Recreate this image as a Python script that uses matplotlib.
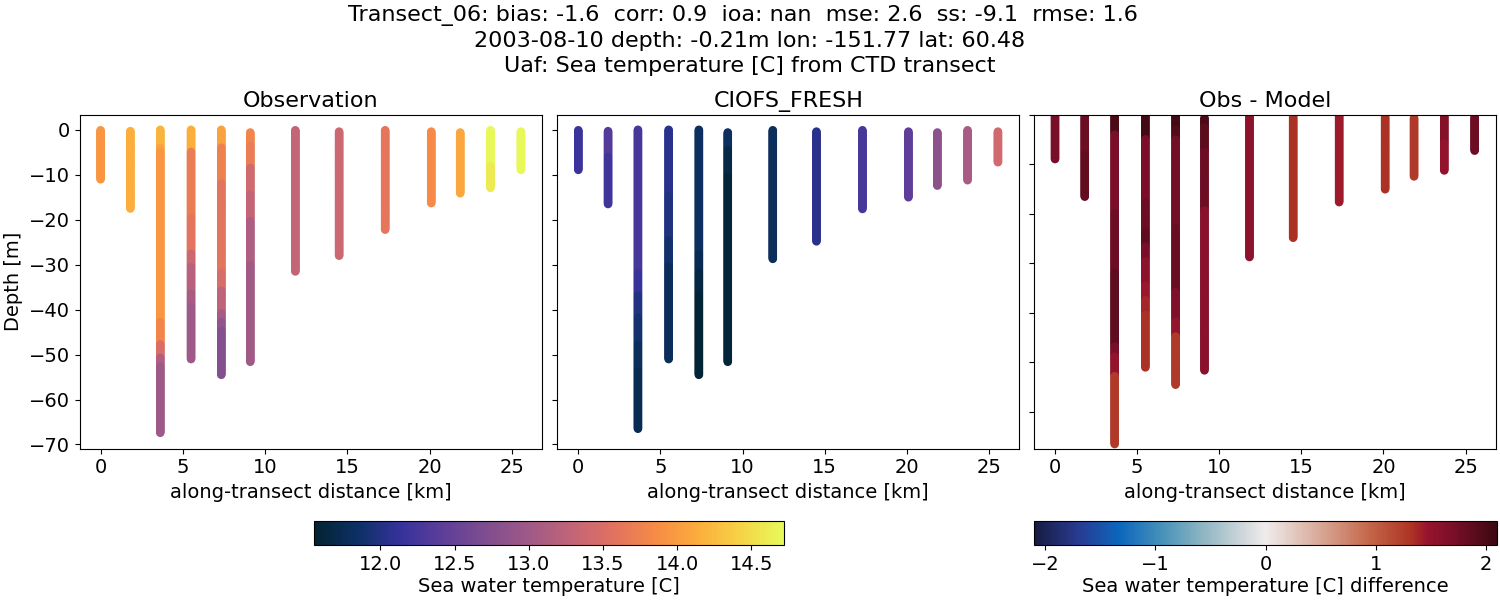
import numpy as np
import matplotlib
matplotlib.use("Agg")
import matplotlib.pyplot as plt
from matplotlib.colors import LinearSegmentedColormap, Normalize
from matplotlib.cm import ScalarMappable

# along-transect distance of the casts [km]
distance = [0.0, 1.81, 3.63, 5.5, 7.34, 9.1, 11.84, 14.5, 17.3, 20.1, 21.86, 23.7, 25.55]

# top and bottom of each cast [m]
obs_top = [-0.1, -0.3, 0.0, 0.0, 0.0, -0.6, -0.1, -0.4, -0.1, -0.4, -0.6, -0.1, -0.4]
obs_bottom = [-11.0, -17.5, -67.4, -51.0, -54.5, -51.6, -31.5, -28.0, -22.2, -16.3, -14.1, -12.9, -8.9]
model_top = [-0.1, -0.3, 0.0, 0.0, 0.0, -0.6, -0.1, -0.4, -0.1, -0.4, -0.6, -0.1, -0.4]
model_bottom = [-8.9, -16.5, -66.5, -51.0, -54.5, -51.6, -28.7, -24.8, -17.6, -15.0, -12.4, -11.2, -7.2]

# temperature read down each cast, about one value per metre
obs_temp = [
    [13.95] * 12,
    [14.15] * 18,
    [14.2] * 4 + [14.05] * 1 + [13.95] * 38 + [13.8] * 5 + [13.5] * 3 + [13.15] * 2 + [13.0] * 15,
    [14.15] * 5 + [13.7] * 15 + [13.6] * 8 + [13.38] * 3 + [13.2] * 6 + [13.08] * 3 + [12.98] * 12,
    [14.05] * 4 + [13.75] * 8 + [13.6] * 20 + [13.48] * 4 + [13.25] * 5 + [13.05] * 2 + [12.88] * 2 + [12.75] * 10,
    [13.8] * 3 + [13.7] * 5 + [13.4] * 6 + [13.3] * 6 + [13.12] * 10 + [13.02] * 22,
    [13.3] * 32,
    [13.38] * 28,
    [13.62] * 23,
    [13.85] * 17,
    [14.1] * 14,
    [14.7] * 8 + [14.6] * 5,
    [14.7] * 9,
]
model_temp = [
    [12.17] * 9,
    [12.35] * 6 + [12.2] * 11,
    [12.25] * 32 + [12.15] * 5 + [12.0] * 5 + [11.9] * 6 + [11.8] * 6 + [11.75] * 13,
    [12.05] * 15 + [11.98] * 10 + [11.88] * 6 + [11.78] * 21,
    [11.82] * 28 + [11.75] * 4 + [11.65] * 5 + [11.57] * 18,
    [11.82] * 4 + [11.68] * 6 + [11.6] * 42,
    [11.8] * 29,
    [12.05] * 25,
    [12.25] * 18,
    [12.42] * 15,
    [12.83] * 13,
    [13.08] * 12,
    [13.42] * 8,
]
diff_temp = [
    [1.72] * 9,
    [1.8] * 8 + [1.85] * 9,
    [2.0] * 4 + [1.72] * 16 + [1.78] * 12 + [1.88] * 15 + [1.72] * 2 + [1.52] * 4 + [1.27] * 14,
    [2.05] * 5 + [1.7] * 13 + [1.78] * 6 + [1.88] * 3 + [1.7] * 3 + [1.55] * 5 + [1.46] * 3 + [1.38] * 3 + [1.33] * 11,
    [2.05] * 3 + [1.95] * 2 + [1.75] * 18 + [1.82] * 13 + [1.65] * 6 + [1.48] * 3 + [1.27] * 10,
    [2.0] * 2 + [1.9] * 5 + [1.78] * 12 + [1.58] * 33,
    [1.55] * 29,
    [1.34] * 25,
    [1.43] * 18,
    [1.34] * 15,
    [1.27] * 13,
    [1.62] * 6 + [1.5] * 6,
    [1.78] * 8,
]

title_lines = [
    "Transect_06: bias: -1.6  corr: 0.9  ioa: nan  mse: 2.6  ss: -9.1  rmse: 1.6  ",
    "2003-08-10 depth: -0.21m lon: -151.77 lat: 60.48",
    "Uaf: Sea temperature [C] from CTD transect",
]

# cmocean is not available, so rebuild thermal and balance
thermal_rgb = [(3, 35, 51), (13, 48, 100), (53, 50, 155), (93, 62, 153), (126, 77, 143), (158, 89, 135),
               (193, 100, 121), (225, 113, 97), (246, 139, 69), (251, 173, 60), (246, 211, 70), (231, 250, 90)]
balance_rgb = [(23, 28, 66), (41, 58, 143), (11, 102, 189), (69, 144, 185), (142, 181, 194), (210, 216, 219),
               (240, 236, 235), (230, 210, 204), (213, 157, 137), (196, 101, 72), (172, 50, 36), (152, 20, 45),
               (120, 14, 40), (60, 9, 17)]
balance_pos = [0, 1 / 11, 2 / 11, 3 / 11, 4 / 11, 5 / 11, 0.5, 6 / 11, 7 / 11, 8 / 11, 9 / 11, 0.85, 10 / 11, 1]
thermal = LinearSegmentedColormap.from_list("thermal", [tuple(c / 255 for c in rgb) for rgb in thermal_rgb], N=256)
balance = LinearSegmentedColormap.from_list(
    "balance", [(p, tuple(c / 255 for c in rgb)) for p, rgb in zip(balance_pos, balance_rgb)], N=256
)

temp_norm = Normalize(vmin=11.553, vmax=14.72)
diff_norm = Normalize(vmin=-2.1, vmax=2.1)

FONT = 14
W, H = 1500.0, 600.0
PER_READING = 4  # points drawn for each reading, keeps the columns smooth


def px_axes(fig, left, right, top, bottom):
    return fig.add_axes([left / W, 1 - bottom / H, (right - left) / W, (bottom - top) / H])


def draw_casts(ax, tops, bottoms, values, cmap, norm):
    # one scatter per cast, shallow to deep, so deeper points sit on top
    for x, top, bottom, vals in zip(distance, tops, bottoms, values):
        vals = np.repeat(vals, PER_READING)
        depth = np.linspace(top, bottom, len(vals))
        ax.scatter([x] * len(vals), depth, c=vals, cmap=cmap, norm=norm, s=38, linewidths=0)


def style_axes(ax, title, ylim):
    ax.set_title(title, fontsize=16, pad=6)
    ax.set_xlabel("along-transect distance [km]", fontsize=FONT, labelpad=4)
    ax.set_xlim(-1.28, 26.85)
    ax.set_ylim(*ylim)
    ax.set_xticks([0, 5, 10, 15, 20, 25])
    ax.tick_params(labelsize=FONT)


fig = plt.figure(figsize=(15, 6), dpi=100)

ax_obs = px_axes(fig, 79.5, 542.3, 115, 448.5)
ax_model = px_axes(fig, 557.3, 1019.3, 115, 448.5)
ax_diff = px_axes(fig, 1034.0, 1496.0, 115, 448.5)

draw_casts(ax_obs, obs_top, obs_bottom, obs_temp, thermal, temp_norm)
draw_casts(ax_model, model_top, model_bottom, model_temp, thermal, temp_norm)
draw_casts(ax_diff, model_top, model_bottom, diff_temp, balance, diff_norm)

style_axes(ax_obs, "Observation", (-70.9, 3.3))
style_axes(ax_model, "CIOFS_FRESH", (-70.9, 3.3))
style_axes(ax_diff, "Obs - Model", (-67.4, 0.0))

ax_obs.set_ylabel("Depth [m]", fontsize=FONT, labelpad=4)
ax_obs.set_yticks([0, -10, -20, -30, -40, -50, -60, -70])
ax_model.set_yticks([0, -10, -20, -30, -40, -50, -60, -70])
ax_model.set_yticklabels([])
ax_diff.set_yticks([0, -10, -20, -30, -40, -50, -60])
ax_diff.set_yticklabels([])

cax_temp = px_axes(fig, 314, 784, 521, 545)
cb_temp = fig.colorbar(ScalarMappable(norm=temp_norm, cmap=thermal), cax=cax_temp, orientation="horizontal")
cb_temp.set_ticks([12.0, 12.5, 13.0, 13.5, 14.0, 14.5])
cb_temp.ax.tick_params(labelsize=FONT)
cb_temp.set_label("Sea water temperature [C]", fontsize=FONT, labelpad=2)

cax_diff = px_axes(fig, 1034.3, 1496.7, 521, 545)
cb_diff = fig.colorbar(ScalarMappable(norm=diff_norm, cmap=balance), cax=cax_diff, orientation="horizontal")
cb_diff.set_ticks([-2, -1, 0, 1, 2])
cb_diff.ax.tick_params(labelsize=FONT)
cb_diff.set_label("Sea water temperature [C] difference", fontsize=FONT, labelpad=2)

fig.suptitle("\n".join(title_lines), x=0.5, y=0.992, va="top", fontsize=16, linespacing=1.33)

fig.savefig("out.png", dpi=100)
